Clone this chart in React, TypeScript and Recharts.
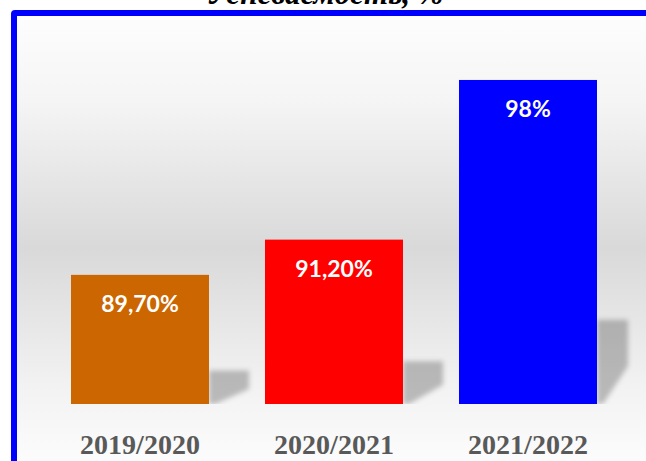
import { BarChart, Bar, XAxis, YAxis, Cell, LabelList } from 'recharts'

const years = ['2019/2020', '2020/2021', '2021/2022']
const success = [89.7, 91.2, 98]
const valueLabels = ['89,70%', '91,20%', '98%']
const barColors = ['#CC6600', '#FF0000', '#0000FF']

const rows = years.map((year, i) => ({ year, success: success[i], label: valueLabels[i] }))

// bar with a soft floor shadow to its right, like the office chart style
function ShadowBar(props: any) {
  const { x, y, width, height, fill, index } = props
  const right = x + width
  const bottom = y + height
  const sh = height * 0.26
  const sw = Math.min(40, 628 - right)
  const id = `shadow-blur-${index}`
  const pts = [
    [right, bottom],
    [right, bottom - sh],
    [right + sw, bottom - sh],
    [right + sw, bottom - sh * 0.45],
    [right + 6, bottom],
  ].map(p => p.join(',')).join(' ')
  return (
    <g>
      <defs>
        <filter id={id} x="-50%" y="-50%" width="200%" height="200%">
          <feGaussianBlur stdDeviation="2.5" />
        </filter>
      </defs>
      <polygon points={pts} fill="#000" fillOpacity={0.24} filter={`url(#${id})`} />
      <rect x={x} y={y} width={width} height={height} fill={fill} />
    </g>
  )
}

function YearTick({ x, y, payload }: any) {
  return (
    <text
      x={x}
      y={y + 42}
      textAnchor="middle"
      fill="#595959"
      fontFamily="'Liberation Serif', serif"
      fontWeight="bold"
      fontSize={28}
    >
      {payload.value}
    </text>
  )
}

function ValueLabel({ x, y, width, value }: any) {
  return (
    <text
      x={x + width / 2}
      y={y + 37}
      textAnchor="middle"
      fill="#fff"
      fontFamily="Lato, sans-serif"
      fontWeight="bold"
      fontSize={23}
    >
      {value}
    </text>
  )
}

export default function App() {
  return (
    <div style={{ position: 'absolute', left: 0, top: 0, width: 646, height: 461, overflow: 'hidden', background: '#fff' }}>
      <div
        style={{
          position: 'absolute',
          left: 11,
          top: 10,
          width: 660,
          height: 470,
          boxSizing: 'border-box',
          border: '6px solid #0000FF',
          borderRadius: 4,
          background:
            'linear-gradient(to bottom, #fdfdfd 0px, #f5f5f5 84px, #d9d9d9 232px, #f2f2f2 370px, #fcfcfc 445px)',
        }}
      />
      <div
        style={{
          position: 'absolute',
          left: 0,
          width: 650,
          top: -21,
          textAlign: 'center',
          fontFamily: "'Liberation Serif', serif",
          fontWeight: 'bold',
          fontStyle: 'italic',
          fontSize: 31,
          lineHeight: '30px',
          color: '#000',
          whiteSpace: 'nowrap',
        }}
      >
        Успеваемость, %
      </div>
      <div style={{ position: 'absolute', left: 0, top: 0 }}>
        <BarChart
          width={646}
          height={461}
          data={rows}
          margin={{ top: 33, right: 21, left: 43, bottom: 0 }}
        >
          <XAxis
            dataKey="year"
            height={57}
            axisLine={false}
            tickLine={false}
            tick={<YearTick />}
            interval={0}
          />
          <YAxis hide domain={[84.2, 100]} allowDataOverflow />
          <Bar dataKey="success" barSize={138} shape={<ShadowBar />} isAnimationActive={false}>
            {rows.map((r, i) => (
              <Cell key={r.year} fill={barColors[i]} />
            ))}
            <LabelList dataKey="label" content={<ValueLabel />} />
          </Bar>
        </BarChart>
      </div>
    </div>
  )
}
